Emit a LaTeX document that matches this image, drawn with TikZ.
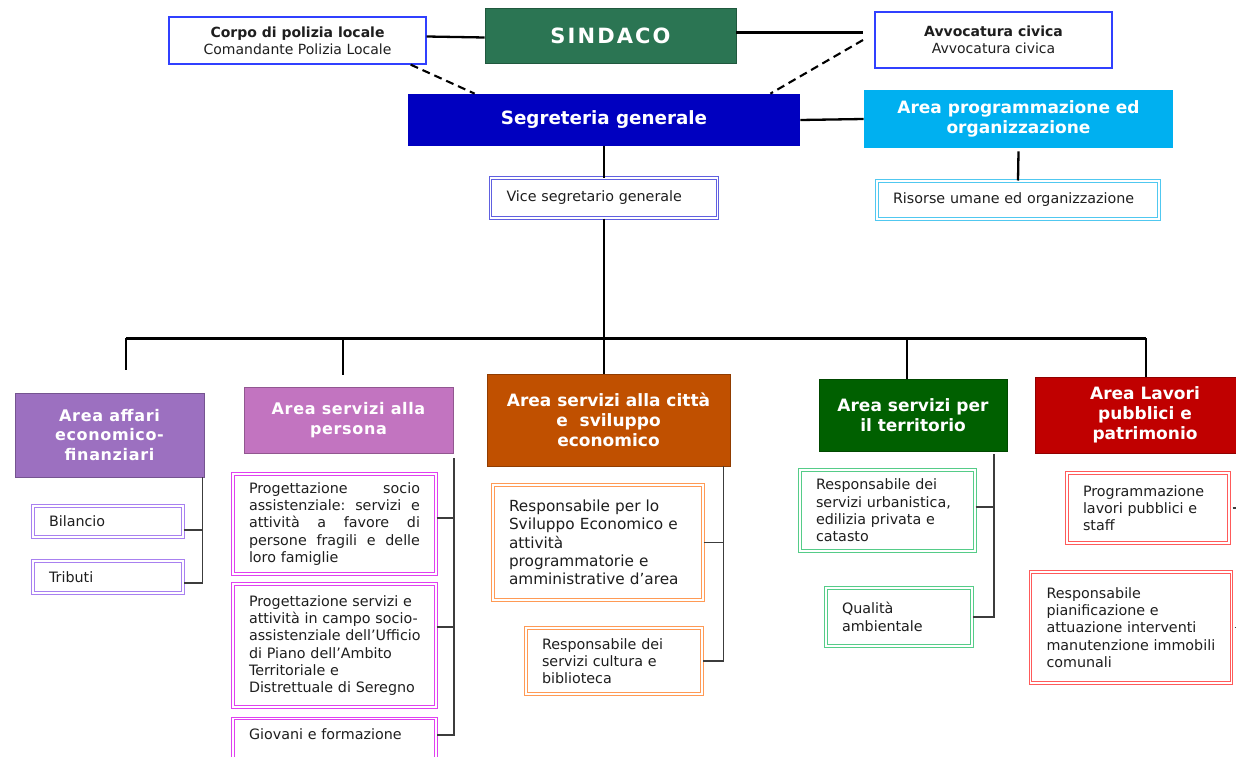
\documentclass[tikz,border=0pt]{standalone}
\usepackage{fontspec}
\setmainfont{DejaVu Sans}
\newfontfamily\headfont{DejaVu Sans}[LetterSpace=4]
\newfontfamily\mayorfont{DejaVu Sans}[LetterSpace=10]
\usetikzlibrary{calc}

\definecolor{mayorgreen}{HTML}{2B7553}
\definecolor{segblue}{HTML}{0000C0}
\definecolor{progblue}{HTML}{00B0F0}
\definecolor{affpurple}{HTML}{9C70C0}
\definecolor{perorchid}{HTML}{C274C0}
\definecolor{cityorange}{HTML}{C05000}
\definecolor{terrgreen}{HTML}{006000}
\definecolor{lavred}{HTML}{C00000}
\definecolor{txt}{HTML}{1E1E1E}
\definecolor{linkgray}{HTML}{3C3C3C}
\definecolor{staffblue}{HTML}{3040FF}
\definecolor{vicebd}{HTML}{6060E0}
\definecolor{risbd}{HTML}{50C8F0}
\definecolor{affbd}{HTML}{A880F0}
\definecolor{perbd}{HTML}{E040F0}
\definecolor{citybd}{HTML}{FF9A55}
\definecolor{terrbd}{HTML}{55CC88}
\definecolor{lavbd}{HTML}{FF5A5A}

% fully justified line with stretchable word gaps
\newcommand\jgap{\hskip 0.32em plus 1fil\relax}
\newcommand\jline[1]{\leavevmode\hbox to 171pt{#1}}

\tikzset{
  head/.style={fill=#1, draw=#1!75!black, line width=0.7pt, text=white,
    align=center, inner sep=0pt},
  hbig/.style={font=\fontsize{17}{20.3}\selectfont\bfseries},
  hsmall/.style={font=\headfont\fontsize{16}{19.4}\selectfont\bfseries},
  staff/.style={draw=staffblue, line width=1.3pt, fill=white, text=txt,
    align=center, inner sep=0pt, font=\fontsize{14}{17.3}\selectfont},
  sub/.style 2 args={draw=#1, double=white, double distance=1.3pt,
    line width=1pt, text=txt, align=left, inner xsep=16pt, inner ysep=0pt,
    text width=#2, font=\fontsize{14.3}{17.3}\selectfont},
  link/.style={draw=black, line width=2.3pt},
  dlink/.style={draw=black, line width=2.1pt, dash pattern=on 8pt off 5pt},
  tie/.style={draw=linkgray, line width=1.5pt},
  stub/.style={draw=linkgray, line width=1.2pt},
  bus/.style={draw=black, line width=3pt},
}

\begin{document}
\begin{tikzpicture}[x=1pt, y=-1pt]
\fill[white] (0,0) rectangle (1236,757);
\useasboundingbox (0,0) rectangle (1236,757);

% ---- top level ----
\node[staff, minimum width=257pt, minimum height=47pt] (corpo) at (297.5,40.5)
  {{\bfseries Corpo di polizia locale}\\Comandante Polizia Locale};
\node[head=mayorgreen, minimum width=251pt, minimum height=55pt,
  font=\mayorfont\fontsize{21}{24}\selectfont\bfseries] (sindaco) at (610.5,35.5) {SINDACO};
\node[staff, minimum width=237pt, minimum height=56pt] (avv) at (993.5,40)
  {{\bfseries Avvocatura civica}\\Avvocatura civica};
\node[head=segblue, draw=none, minimum width=392pt, minimum height=52pt,
  font=\fontsize{18.3}{21}\selectfont\bfseries] (seg) at (604,120) {Segreteria generale};
\node[head=progblue, draw=none, minimum width=309pt, minimum height=58pt,
  font=\fontsize{17}{19.5}\selectfont\bfseries] (prog) at (1018.5,119)
  {Area programmazione ed\\organizzazione};
\node[sub={risbd}{250pt}, minimum height=38pt] (ris) at (1018,200)
  {Risorse umane ed organizzazione};
\node[sub={vicebd}{195pt}, minimum height=40pt] (vice) at (604,198)
  {Vice segretario generale};

% ---- areas ----
\node[head=affpurple, hsmall, minimum width=189pt, minimum height=84pt] (affari) at (109.5,435)
  {Area affari\\economico-\\finanziari};
\node[head=perorchid, hsmall, minimum width=209pt, minimum height=66pt] (persona) at (348.5,420)
  {Area servizi alla\\persona};
\node[head=cityorange, hbig, minimum width=243pt, minimum height=92pt] (citta) at (608.5,420)
  {Area servizi alla città\\e\ \ sviluppo\\economico};
\node[head=terrgreen, hbig, minimum width=188pt, minimum height=72pt] (terr) at (913,415)
  {Area servizi per\\il territorio};
\node[head=lavred, hbig, minimum width=220pt, minimum height=76pt] (lav) at (1145,415)
  {Area Lavori\\pubblici e\\patrimonio};

% ---- offices ----
\node[sub={affbd}{118pt}, minimum height=31pt] (bil) at (108,521.5) {Bilancio};
\node[sub={affbd}{118pt}, minimum height=32pt] (trib) at (108,577) {Tributi};

\node[sub={perbd}{171pt}, minimum height=100pt] (per1) at (334.5,524)
  {\jline{Progettazione\jgap socio}\\
   \jline{assistenziale:\jgap servizi\jgap e}\\
   \jline{attività\jgap a\jgap favore\jgap di}\\
   \jline{persone\jgap fragili\jgap e\jgap delle}\\
   loro famiglie};
\node[sub={perbd}{171pt}, minimum height=123pt] (per2) at (334.5,645.5)
  {Progettazione servizi e\\attività in campo socio-\\\mbox{assistenziale dell’Ufficio}\\di Piano dell’Ambito\\Territoriale e\\Distrettuale di Seregno};
\node[sub={perbd}{171pt}, anchor=north, inner ysep=8pt, text height=13pt, text depth=40pt] (per3)
  at (334.5,718) {Giovani e formazione};

\node[sub={citybd}{178pt}, minimum height=115pt, font=\fontsize{15.3}{18.3}\selectfont] (citta1) at (598,542.5)
  {Responsabile per lo\\Sviluppo Economico e\\attività\\programmatorie e\\amministrative d’area};
\node[sub={citybd}{144pt}, minimum height=66pt] (citta2) at (614,661)
  {Responsabile dei\\servizi cultura e\\biblioteca};

\node[sub={terrbd}{143pt}, minimum height=81pt] (terr1) at (887.5,510.5)
  {Responsabile dei\\servizi urbanistica,\\edilizia privata e\\catasto};
\node[sub={terrbd}{114pt}, minimum height=58pt] (terr2) at (899,617)
  {Qualità\\ambientale};

\node[sub={lavbd}{130pt}, minimum height=70pt] (lav1) at (1148,508)
  {Programmazione\\lavori pubblici e\\staff};
\node[sub={lavbd}{169pt}, minimum height=111pt] (lav2) at (1131,627.5)
  {Responsabile\\pianificazione e\\attuazione interventi\\manutenzione immobili\\comunali};

% ---- top connectors ----
\coordinate (avvj) at (863,32.5);
\coordinate (avvd) at (863,40);
\draw[link] ([yshift=4pt]corpo.east) -- ([yshift=-2pt]sindaco.west);
\draw[link] ([yshift=3pt]sindaco.east) -- (avvj);
\draw[dlink] (avvd) -- ([xshift=-30pt]seg.north east);
\draw[dlink] ([xshift=-16pt]corpo.south east) -- ([xshift=67pt]seg.north west);
\draw[link] (seg.east) -- (prog.west);
\draw[link] ([yshift=-3pt]prog.south) -- (ris.north);
\draw[link] (seg.south) -- (vice.north);

% ---- distribution bar ----
\coordinate (b1) at (126,338);
\coordinate (b2) at (343,338);
\coordinate (b3) at (604,338);
\coordinate (b4) at (907,338);
\coordinate (b5) at (1146,338);
\coordinate (t1) at (126,370);
\coordinate (t2) at (343,375);
\draw[link] (vice.south) -- (b3);
\draw[bus] (b1) -- (b5);
\draw[link] (b1) -- (t1);
\draw[link] (b2) -- (t2);
\draw[link] (b3) -- (b3 |- citta.north);
\draw[link] (b4) -- (b4 |- terr.north);
\draw[link] (b5) -- (b5 |- lav.north);

% ---- office connectors ----
\coordinate (av) at ([xshift=-2pt]affari.south east);
\draw[tie] (av) |- ([yshift=-6pt]trib.east);
\draw[tie] ([yshift=-8.5pt]bil.east) -- ([yshift=-8.5pt]bil.east -| av);

\coordinate (pv) at (454,458);
\draw[tie] (pv) |- ([yshift=-17pt]per3.north east);
\draw[tie] ([yshift=6pt]per1.east) -- ([yshift=6pt]per1.east -| pv);
\draw[tie] ([yshift=18.5pt]per2.east) -- ([yshift=18.5pt]per2.east -| pv);

\coordinate (cv) at ([xshift=-7pt]citta.south east);
\draw[tie] (cv) |- (citta2.east);
\draw[tie] (citta1.east) -- (citta1.east -| cv);

\coordinate (tv) at (994,454);
\draw[tie] (tv) |- (terr2.east);
\draw[tie] ([yshift=3.5pt]terr1.east) -- ([yshift=3.5pt]terr1.east -| tv);

\coordinate (ls1) at (1240,508);
\coordinate (ls2) at (1240,627.5);
\draw[stub] ([xshift=3pt]lav1.east) -- (ls1);
\draw[stub] ([xshift=2.5pt]lav2.east) -- (ls2);
\end{tikzpicture}
\end{document}
